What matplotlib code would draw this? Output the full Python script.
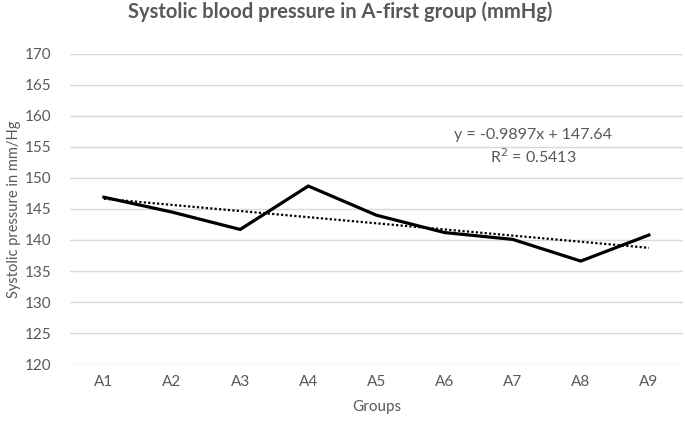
import numpy as np
import matplotlib.pyplot as plt

plt.rcParams['font.family'] = ['Lato', 'DejaVu Sans']

# Data
groups = ["A1", "A2", "A3", "A4", "A5", "A6", "A7", "A8", "A9"]
systolic = [146.9, 144.5, 141.7, 148.7, 144.0, 141.2, 140.1, 136.6, 140.8]

# Trendline (Excel style, x = 1..9)
slope, intercept = -0.9897, 147.64
r2 = 0.5413

grey = "#595959"

fig = plt.figure(figsize=(6.85, 4.25), dpi=100)
ax = fig.add_axes([0.102, 0.1435, 0.895, 0.7295])

x = np.arange(len(groups))
xs = x + 1
trend = slope * xs + intercept

ax.plot(x, systolic, color="black", lw=2.3, solid_joinstyle="miter", zorder=3)
ax.plot(x, trend, color="black", lw=1.6, linestyle=(0, (1, 1)), zorder=2)

ax.set_xlim(-0.5, len(groups) - 0.5)
ax.set_ylim(120, 170)
ax.set_yticks(np.arange(120, 171, 5))
ax.set_xticks(x)
ax.set_xticklabels(groups)

ax.grid(axis="y", color="#d9d9d9", lw=1)
ax.set_axisbelow(True)
for s in ax.spines.values():
    s.set_visible(False)
ax.tick_params(length=0, labelsize=11, colors=grey, pad=8)
ax.tick_params(axis="y", pad=13)

ax.set_xlabel("Groups", fontsize=11, color=grey, labelpad=8)
ax.set_ylabel("Systolic pressure in mm/Hg", fontsize=10.5, color=grey, labelpad=3)
fig.text(0.496, 0.972, "Systolic blood pressure in A-first group (mmHg)",
         ha="center", va="center", fontsize=14.5, fontweight="bold", color=grey)

ax.text(6.3, 156.9, "y = -0.9897x + 147.64", ha="center", va="center",
        fontsize=11.5, color=grey)
ax.text(6.3, 153.4, "R$^2$ = 0.5413", ha="center", va="center",
        fontsize=11.5, color=grey)

fig.savefig("out.png", dpi=100)
